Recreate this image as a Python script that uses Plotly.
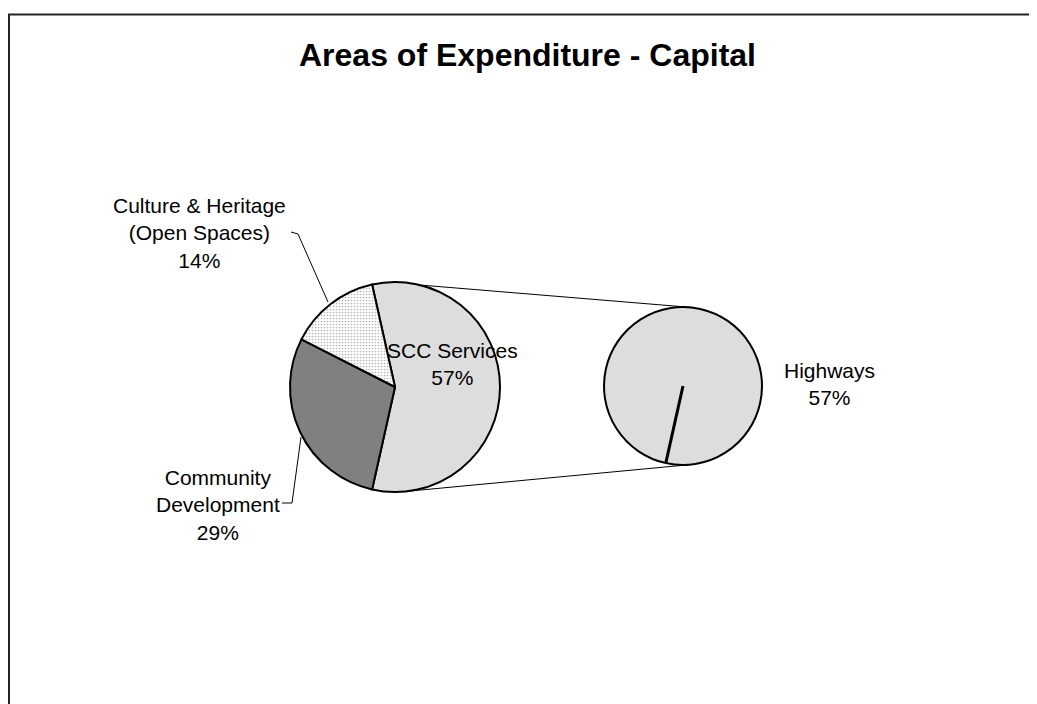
import math
import plotly.graph_objects as go

# ---- data ----
main_labels = ["SCC Services", "Community Development", "Culture & Heritage (Open Spaces)"]
main_values = [57, 29, 14]
main_colors = ["#DDDDDD", "#808080", "#FFFFFF"]
sec_labels = ["Highways"]
sec_values = [57]
title_text = "Areas of Expenditure - Capital"

PW, PH = 1037, 704       # page size
OFF = 8                  # browser body margin
W, H = PW - OFF, PH - OFF
FONT = "Arial, Liberation Sans, sans-serif"

# ---- geometry (page pixels) ----
mcx, mcy, mr = 395, 387, 105      # main pie
scx, scy, sr = 683, 386, 79       # secondary pie

total = sum(main_values)
split_span = 360.0 * main_values[0] / total
rotation = 90 - split_span / 2.0   # split slice centred on the right side


def dom(cx, cy, r):
    cx -= OFF
    cy -= OFF
    return dict(x=[(cx - r) / W, (cx + r) / W],
                y=[(H - cy - r) / H, (H - cy + r) / H])


def pt(cx, cy, r, ang):
    a = math.radians(ang)
    return cx + r * math.sin(a), cy - r * math.cos(a)


fig = go.Figure()
fig.add_trace(go.Pie(
    labels=main_labels, values=main_values, sort=False, direction="clockwise",
    rotation=rotation, textinfo="none", hoverinfo="label+percent",
    domain=dom(mcx, mcy, mr), showlegend=False,
    marker=dict(colors=main_colors, line=dict(color="black", width=2),
                pattern=dict(shape=["", "", "."], fgcolor="#b5b5b5",
                             bgcolor=main_colors, size=3, solidity=0.25)),
))
sec_rot = rotation + split_span
fig.add_trace(go.Pie(
    labels=sec_labels, values=sec_values, sort=False, direction="clockwise",
    rotation=sec_rot - 360, textinfo="none", hoverinfo="label",
    domain=dom(scx, scy, sr), showlegend=False,
    marker=dict(colors=["#DDDDDD"], line=dict(color="black", width=2)),
))

shapes = []
# radial edge of the single secondary slice
ex, ey = pt(scx, scy, sr, sec_rot)
shapes.append(dict(type="line", x0=scx, y0=scy, x1=ex, y1=ey,
                   line=dict(color="black", width=3)))
# connector lines
for a_main, a_sec in [(13.8, 5.0), (173.4, 176.4)]:
    x0, y0 = pt(mcx, mcy, mr, a_main)
    x1, y1 = pt(scx, scy, sr, a_sec)
    shapes.append(dict(type="line", x0=x0, y0=y0, x1=x1, y1=y1,
                       line=dict(color="black", width=1)))
# leader lines
for path in ["M291,232 L298,234 L328,302", "M282,503 L292,503 L301,437"]:
    shapes.append(dict(type="path", path=path, line=dict(color="black", width=1)))
# chart border (top and left)
shapes.append(dict(type="path", path="M9,704 L9,14.5 L1037,14.5",
                   line=dict(color="#222222", width=2)))

pct = [round(100 * v / total) for v in main_values]
ann = [
    dict(x=527, y=55, text="<b>%s</b>" % title_text, font=dict(size=32)),
    dict(x=199, y=233, text="Culture & Heritage<br>(Open Spaces)<br>%d%%" % pct[2]),
    dict(x=218, y=505, text="Community<br>Development<br>%d%%" % pct[1]),
    dict(x=452, y=364, text="SCC Services<br>%d%%" % pct[0]),
    dict(x=829, y=384, text="Highways<br>%d%%" % sec_values[0]),
]
for a in ann:
    a.update(xref="x", yref="y", showarrow=False, xanchor="center", yanchor="middle")
    a.setdefault("font", dict(size=21))
    a["font"] = dict(family=FONT, color="black", **a["font"])

fig.update_layout(
    width=W, height=H, margin=dict(l=0, r=0, t=0, b=0),
    paper_bgcolor="white", plot_bgcolor="rgba(0,0,0,0)",
    xaxis=dict(range=[OFF, PW], visible=False, fixedrange=True),
    yaxis=dict(range=[PH, OFF], visible=False, fixedrange=True),
    shapes=shapes, annotations=ann, font=dict(family=FONT),
)
fig.write_html("out.html")
